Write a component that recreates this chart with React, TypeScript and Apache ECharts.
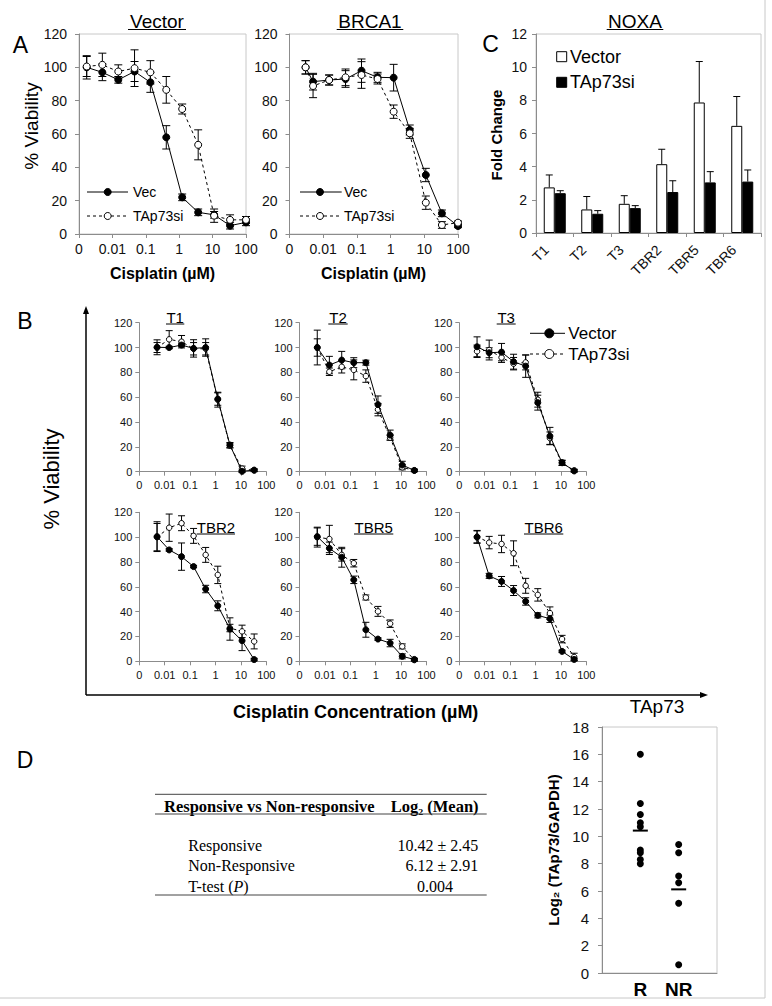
import React, { useEffect, useRef } from "react";
import * as echarts from "echarts";

const SANS = '"Liberation Sans", Arial, sans-serif';
const SERIF = '"Liberation Serif", "DejaVu Serif", serif';
const AXIS_GRAY = "#8c8c8c";

const logTickLabels = ["0", "0.01", "0.1", "1", "10", "100"];

// ---------- Panel A ----------
const concA = [0.0017, 0.005, 0.015, 0.046, 0.137, 0.41, 1.23, 3.7, 11.1, 33.3, 100];
const concBrca = [0.003, 0.005, 0.015, 0.046, 0.137, 0.41, 1.23, 3.7, 11.1, 33.3, 100];
const vectorVec = [100, 97, 92.5, 97.5, 91, 58, 22, 13, 11.5, 5, 7];
const vectorVecErr = [7, 5, 2, 6, 6, 7, 2, 2, 2, 2, 2];
const vectorSi = [100.5, 101.5, 97.5, 99.5, 97, 86.5, 75, 53.5, 11, 8.5, 8.5];
const vectorSiErr = [6, 7, 4, 11, 7, 8, 3, 9, 4, 3, 2];
const brcaVec = [100, 91.4, 92.4, 93, 98, 94, 93.8, 62.4, 35.4, 12.4, 4.8];
const brcaVecErr = [4, 5, 3, 5, 7, 3, 8, 3, 4, 2, 1];
const brcaSi = [100, 88.8, 92.4, 94, 95.4, 93, 73.4, 60.4, 18.8, 5.4, 6.8];
const brcaSiErr = [4, 7, 3, 5, 8, 3, 4, 3, 4, 2, 1];

// ---------- Panel C ----------
const noxaCats = ["T1", "T2", "T3", "TBR2", "TBR5", "TBR6"];
const noxaVector = [2.75, 1.42, 1.76, 4.15, 7.87, 6.46];
const noxaVectorErr = [0.75, 0.78, 0.49, 0.9, 2.47, 1.77];
const noxaSi = [2.4, 1.16, 1.5, 2.47, 3.05, 3.1];
const noxaSiErr = [0.15, 0.19, 0.15, 0.68, 0.65, 0.7];

// ---------- Panel B ----------
const concB = [0.005, 0.015, 0.046, 0.137, 0.41, 1.23, 3.7, 11.1, 33.3];
const bNames = ["T1", "T2", "T3", "TBR2", "TBR5", "TBR6"];
const bVector = [
  [100.2, 100, 102, 99.3, 100, 58.5, 21.5, 0.3, 1.3],
  [100, 85.9, 89.9, 87.8, 87.8, 54, 29.5, 5.4, 1],
  [100.6, 95.8, 96.3, 88.6, 85, 55.6, 28.7, 7.3, 0.6],
  [100.4, 89.7, 84.3, 76.3, 58.2, 44.7, 26, 16.6, 1.4],
  [100.4, 91, 83.8, 65.6, 25.4, 17.9, 14.7, 4, 1.5],
  [100, 68.8, 64.3, 57, 48.2, 37, 34.3, 8, 1.5],
];
const bVectorErr = [
  [6, 1, 1, 7, 7, 5, 2, 1, 1],
  [14, 7, 7, 4, 2, 7, 4, 3, 1],
  [8, 4, 7, 6, 9, 6, 7, 2, 1],
  [12, 1, 11, 1, 3, 4, 9, 8, 1],
  [7, 5, 8, 3, 6, 1, 3, 2, 1],
  [5, 2, 4, 4, 3, 2, 3, 1, 1],
];
const bSi = [
  [100, 106.6, 104.7, 99, 99, 58, 21, 2.5, 1],
  [100, 80.5, 84.5, 82, 77, 50, 27.4, 3.5, 1],
  [97, 98, 92, 87, 88, 58, 27, 7, 1],
  [100, 107.6, 111.2, 101, 85.7, 69.6, 26.8, 24.1, 16],
  [100, 98.5, 85.7, 79, 51.4, 40.2, 30.3, 12, 1],
  [100.4, 95.6, 94.5, 87, 60.8, 53.5, 38.8, 17.9, 3.5],
];
const bSiErr = [
  [4, 7, 5, 5, 5, 6, 2, 2, 1],
  [7, 3, 5, 8, 5, 5, 2, 2, 1],
  [5, 8, 4, 5, 6, 6, 5, 2, 1],
  [11, 11, 6, 6, 6, 7, 3, 5, 6],
  [8, 11, 5, 3, 2, 4, 3, 2, 1],
  [5, 5, 7, 10, 6, 5, 5, 3, 3],
];

// ---------- Panel D ----------
const groupLabels = ["", "R", "NR", ""];
const respValues = [16, 12.4, 11.6, 11.0, 10.7, 9.0, 8.8, 8.3, 8.0];
const nonRespValues = [9.4, 8.8, 7.1, 6.6, 5.1, 0.6];
const groupMeans = [10.42, 6.12];
const tableRows = ["Responsive", "Non-Responsive"];
const tableValues = ["10.42 \u00b1 2.45", "6.12 \u00b1 2.91", "0.004"];

// ---------- helpers ----------
function errRenderer(cap: number, offset = 0, both = true) {
  return (_p: any, api: any) => {
    const x = api.value(0);
    const lo = api.coord([x, api.value(1)]);
    const hi = api.coord([x, api.value(2)]);
    const st = { stroke: "#000", lineWidth: 1 };
    const cx = lo[0] + offset;
    const children: any[] = [
      { type: "line", shape: { x1: cx, y1: lo[1], x2: cx, y2: hi[1] }, style: st },
      { type: "line", shape: { x1: cx - cap, y1: hi[1], x2: cx + cap, y2: hi[1] }, style: st },
    ];
    if (both) children.push({ type: "line", shape: { x1: cx - cap, y1: lo[1], x2: cx + cap, y2: lo[1] }, style: st });
    return { type: "group", children };
  };
}

function errSeries(idx: number, xs: number[], ys: number[], es: number[], cap: number) {
  return {
    type: "custom",
    xAxisIndex: idx,
    yAxisIndex: idx,
    z: 1,
    silent: true,
    encode: { x: 0, y: [1, 2] },
    data: xs.map((x, i) => [x, ys[i] - es[i], ys[i] + es[i]]),
    renderItem: errRenderer(cap),
  };
}

function lineSeries(idx: number, name: string, xs: number[], ys: number[], filled: boolean, size: number, z: number) {
  return {
    type: "line",
    name,
    xAxisIndex: idx,
    yAxisIndex: idx,
    z,
    silent: true,
    data: xs.map((x, i) => [x, ys[i]]),
    symbol: "circle",
    symbolSize: size,
    showSymbol: true,
    showAllSymbol: true,
    lineStyle: { color: "#000", width: 1, type: filled ? "solid" : [3, 3] },
    itemStyle: { color: filled ? "#000" : "#fff", borderColor: "#000", borderWidth: 1, opacity: 1 },
  };
}

function logXAxis(gi: number, fs: number, margin: number) {
  return {
    type: "log",
    gridIndex: gi,
    logBase: 10,
    min: 0.001,
    max: 100,
    axisLine: { show: true, lineStyle: { color: AXIS_GRAY, width: 1 } },
    axisTick: { show: true, length: 4, inside: false, lineStyle: { color: AXIS_GRAY } },
    minorTick: { show: false },
    splitLine: { show: false },
    axisLabel: {
      fontSize: fs,
      fontFamily: SANS,
      color: "#111",
      margin,
      formatter: (v: number) => logTickLabels[Math.round(Math.log10(v)) + 3] ?? "",
    },
  };
}

function valYAxis(gi: number, max: number, interval: number, fs: number, margin: number) {
  return {
    type: "value",
    gridIndex: gi,
    min: 0,
    max,
    interval,
    axisLine: { show: true, lineStyle: { color: AXIS_GRAY, width: 1 } },
    axisTick: { show: true, length: 4, inside: false, lineStyle: { color: AXIS_GRAY } },
    splitLine: { show: false },
    axisLabel: { fontSize: fs, fontFamily: SANS, color: "#111", margin, showMinLabel: true, showMaxLabel: true },
  };
}

const T = (x: number, y: number, text: string, size: number, o: any = {}) => ({
  type: "text",
  x,
  y,
  rotation: o.rotation || 0,
  silent: true,
  z: 100,
  style: {
    text,
    fontSize: size,
    fontFamily: o.family || SANS,
    fontWeight: o.weight || "normal",
    fontStyle: o.fontStyle || "normal",
    fill: o.color || "#000",
    textAlign: o.align || "center",
    textVerticalAlign: o.valign || "middle",
    rich: o.rich,
  },
});
const L = (x1: number, y1: number, x2: number, y2: number, color = "#000", width = 1, dash?: number[]) => ({
  type: "line",
  silent: true,
  z: 100,
  shape: { x1, y1, x2, y2 },
  style: { stroke: color, lineWidth: width, lineDash: dash },
});
const C = (cx: number, cy: number, r: number, filled: boolean) => ({
  type: "circle",
  silent: true,
  z: 101,
  shape: { cx, cy, r },
  style: { fill: filled ? "#000" : "#fff", stroke: "#000", lineWidth: 1 },
});
const R = (x: number, y: number, w: number, h: number, fill: string) => ({
  type: "rect",
  silent: true,
  z: 100,
  shape: { x, y, width: w, height: h },
  style: { fill, stroke: "#000", lineWidth: 1 },
});

function buildOption() {
  const grids: any[] = [];
  const xAxes: any[] = [];
  const yAxes: any[] = [];
  const series: any[] = [];

  const boxGrid = (left: number, top: number, width: number, height: number, box: boolean) => ({
    left,
    top,
    width,
    height,
    show: box,
    borderColor: "#c8c8c8",
    borderWidth: 1,
    backgroundColor: "transparent",
    containLabel: false,
    outerBoundsMode: "none",
  });

  // A: Vector (0), BRCA1 (1)
  grids.push(boxGrid(79, 34, 167, 200, true));
  grids.push(boxGrid(289.5, 34, 168.5, 200, true));
  xAxes.push(logXAxis(0, 14, 8));
  xAxes.push(logXAxis(1, 14, 8));
  yAxes.push(valYAxis(0, 120, 20, 14, 12));
  yAxes.push(valYAxis(1, 120, 20, 14, 12));
  series.push(errSeries(0, concA, vectorVec, vectorVecErr, 4));
  series.push(errSeries(0, concA, vectorSi, vectorSiErr, 4));
  series.push(lineSeries(0, "Vec", concA, vectorVec, true, 7, 3));
  series.push(lineSeries(0, "TAp73si", concA, vectorSi, false, 7, 4));
  series.push(errSeries(1, concBrca, brcaVec, brcaVecErr, 4));
  series.push(errSeries(1, concBrca, brcaSi, brcaSiErr, 4));
  series.push(lineSeries(1, "Vec", concBrca, brcaVec, true, 7, 3));
  series.push(lineSeries(1, "TAp73si", concBrca, brcaSi, false, 7, 4));

  // C: NOXA (2)
  grids.push(boxGrid(536, 34, 225, 199, true));
  xAxes.push({
    type: "category",
    gridIndex: 2,
    data: noxaCats,
    axisLine: { show: true, lineStyle: { color: AXIS_GRAY } },
    axisTick: { show: true, length: 4, alignWithLabel: false, lineStyle: { color: AXIS_GRAY } },
    axisLabel: { fontSize: 14, fontFamily: SANS, color: "#111", rotate: 45, margin: 6, interval: 0, padding: [0, 12, 0, 0] },
  });
  yAxes.push(valYAxis(2, 12, 2, 14, 9));
  series.push({
    type: "bar",
    name: "Vector",
    xAxisIndex: 2,
    yAxisIndex: 2,
    data: noxaVector,
    barWidth: 11,
    barGap: "0%",
    silent: true,
    itemStyle: { color: "#fff", borderColor: "#000", borderWidth: 1, opacity: 1 },
  });
  series.push({
    type: "bar",
    name: "TAp73si",
    xAxisIndex: 2,
    yAxisIndex: 2,
    data: noxaSi,
    barWidth: 11,
    barGap: "0%",
    silent: true,
    itemStyle: { color: "#000", borderColor: "#000", borderWidth: 1, opacity: 1 },
  });
  series.push({
    type: "custom",
    xAxisIndex: 2,
    yAxisIndex: 2,
    z: 5,
    silent: true,
    encode: { x: 0, y: [1, 2] },
    data: noxaCats.map((_c, i) => [i, noxaVector[i], noxaVector[i] + noxaVectorErr[i]]),
    renderItem: errRenderer(3.5, -5.5, false),
  });
  series.push({
    type: "custom",
    xAxisIndex: 2,
    yAxisIndex: 2,
    z: 5,
    silent: true,
    encode: { x: 0, y: [1, 2] },
    data: noxaCats.map((_c, i) => [i, noxaSi[i], noxaSi[i] + noxaSiErr[i]]),
    renderItem: errRenderer(3.5, 5.5, false),
  });

  // B: six small panels (3..8)
  const bLefts = [139.3, 299.5, 459.3];
  const bTops = [322.7, 512.3];
  for (let k = 0; k < 6; k++) {
    const gi = 3 + k;
    grids.push(boxGrid(bLefts[k % 3], bTops[Math.floor(k / 3)], 127, 149, false));
    xAxes.push(logXAxis(gi, 11, 8));
    yAxes.push(valYAxis(gi, 120, 20, 11, 7));
    series.push(errSeries(gi, concB, bSi[k], bSiErr[k], 3.5));
    series.push(errSeries(gi, concB, bVector[k], bVectorErr[k], 3.5));
    series.push(lineSeries(gi, "TAp73si", concB, bSi[k], false, 5.5, 3));
    series.push(lineSeries(gi, "Vector", concB, bVector[k], true, 6, 4));
  }

  // D: scatter (9)
  grids.push(boxGrid(602, 727, 115, 246, true));
  xAxes.push({
    type: "value",
    gridIndex: 9,
    min: 0,
    max: 3,
    interval: 1,
    axisLine: { show: true, lineStyle: { color: AXIS_GRAY } },
    axisTick: { show: false },
    splitLine: { show: false },
    axisLabel: {
      fontSize: 19,
      fontWeight: "bold",
      fontFamily: SANS,
      color: "#000",
      margin: 7,
      showMinLabel: true,
      showMaxLabel: true,
      formatter: (v: number) => groupLabels[Math.round(v)] ?? "",
    },
  });
  yAxes.push(valYAxis(9, 18, 2, 15, 13));
  series.push({
    type: "scatter",
    xAxisIndex: 9,
    yAxisIndex: 9,
    silent: true,
    symbol: "circle",
    symbolSize: 7,
    itemStyle: { color: "#000", opacity: 1 },
    data: [...respValues.map((v) => [1, v]), ...nonRespValues.map((v) => [2, v])],
  });
  series.push({
    type: "scatter",
    xAxisIndex: 9,
    yAxisIndex: 9,
    silent: true,
    symbol: "rect",
    symbolSize: [15, 2],
    itemStyle: { color: "#000", opacity: 1 },
    data: groupMeans.map((m, i) => [i + 1, m]),
  });

  // ---------- graphic ----------
  const g: any[] = [];
  // panel letters
  g.push(T(20.5, 45, "A", 23));
  g.push(T(490.5, 44, "C", 23));
  g.push(T(25, 320.5, "B", 23));
  g.push(T(25, 760, "D", 23));

  // A titles
  g.push(T(157, 21.5, "Vector", 19));
  g.push(L(128, 29.5, 186, 29.5));
  g.push(T(370, 21.5, "BRCA1", 19));
  g.push(L(336.7, 29.5, 403.3, 29.5));
  g.push(T(635, 21.5, "NOXA", 19));
  g.push(L(606.7, 29.5, 663.3, 29.5));

  // A axis titles
  g.push(T(31, 126, "% Viability", 19, { rotation: Math.PI / 2 }));
  g.push(T(162.5, 273, "Cisplatin (\u00b5M)", 16, { weight: "bold" }));
  g.push(T(373.5, 273, "Cisplatin (\u00b5M)", 16, { weight: "bold" }));

  // A legends
  const legA = (x1: number, x2: number, mx: number, tx: number) => {
    g.push(L(x1, 192, x2, 192));
    g.push(C(mx, 192, 3.5, true));
    g.push(T(tx, 192, "Vec", 14, { align: "left" }));
    g.push(L(x1, 216, x2, 216, "#000", 1, [3, 3]));
    g.push(C(mx, 216, 3.5, false));
    g.push(T(tx, 216, "TAp73si", 14, { align: "left" }));
  };
  legA(87, 128, 107.7, 133);
  legA(300, 341.7, 320, 344);

  // C extras
  g.push(T(496, 135, "Fold Change", 15, { weight: "bold", rotation: Math.PI / 2 }));
  g.push(R(556.7, 51.7, 10, 10, "#fff"));
  g.push(T(570, 56.7, "Vector", 18, { align: "left" }));
  g.push(R(556.7, 77.3, 10, 10, "#000"));
  g.push(T(570, 82.3, "TAp73si", 18, { align: "left" }));

  // B titles
  const bTitle = [
    [175.2, 317.5, 166, 184.3, 324],
    [338, 317.5, 328.3, 347.7, 324],
    [506.2, 317.5, 496.7, 515.7, 324],
    [216, 527, 196.7, 235, 534],
    [373.7, 527, 354, 393.3, 534],
    [543.7, 527, 524, 563.3, 534],
  ];
  bTitle.forEach((t, k) => {
    g.push(T(t[0], t[1], bNames[k], 15));
    g.push(L(t[2], t[4], t[3], t[4]));
  });

  // B legend
  g.push(L(530, 333.3, 565, 333.3));
  g.push(C(549.3, 333.3, 4.5, true));
  g.push(T(568.3, 333.3, "Vector", 17, { align: "left" }));
  g.push(L(530, 354, 565, 354, "#000", 1, [3, 3]));
  g.push(C(549.3, 354, 4.5, false));
  g.push(T(568.3, 354, "TAp73si", 17, { align: "left" }));

  // B big axes with arrows
  g.push(L(86, 695, 86, 310, "#000", 1.5));
  g.push({ type: "polygon", silent: true, z: 100, shape: { points: [[86, 306], [83, 314], [89, 314]] }, style: { fill: "#000" } });
  g.push(L(86, 695, 704, 695, "#000", 1.5));
  g.push({ type: "polygon", silent: true, z: 100, shape: { points: [[708, 695], [700, 692], [700, 698]] }, style: { fill: "#000" } });
  g.push(T(51.5, 479, "% Viability", 22, { rotation: Math.PI / 2 }));
  g.push(T(233, 712, "Cisplatin Concentration (\u00b5M)", 18, { weight: "bold", align: "left" }));

  // D table
  g.push(L(155, 794.3, 486.7, 794.3, "#444", 1));
  g.push(T(164, 806.7, "Responsive vs Non-responsive", 16.5, { family: SERIF, weight: "bold", align: "left" }));
  g.push(T(390.7, 806.7, "Log\u2082 (Mean)", 16.5, { family: SERIF, weight: "bold", align: "left" }));
  g.push(L(155, 814, 486.7, 814, "#444", 1));
  g.push(T(188.3, 845, tableRows[0], 16, { family: SERIF, align: "left" }));
  g.push(T(188.3, 865.3, tableRows[1], 16, { family: SERIF, align: "left" }));
  g.push({
    type: "text",
    x: 188.3,
    y: 886,
    silent: true,
    z: 100,
    style: {
      text: "{n|T-test (}{i|P}{n|)}",
      fill: "#000",
      textAlign: "left",
      textVerticalAlign: "middle",
      rich: {
        n: { fontSize: 16, fontFamily: SERIF, fill: "#000" },
        i: { fontSize: 16, fontFamily: SERIF, fontStyle: "italic", fill: "#000" },
      },
    },
  });
  g.push(T(478.3, 845, tableValues[0], 16, { family: SERIF, align: "right" }));
  g.push(T(478.3, 865.3, tableValues[1], 16, { family: SERIF, align: "right" }));
  g.push(T(435, 886, tableValues[2], 16, { family: SERIF }));
  g.push(L(155, 895, 486.7, 895, "#444", 1));

  // D scatter extras
  g.push(T(657, 706, "TAp73", 19));
  g.push(T(553, 850, "Log\u2082 (TAp73/GAPDH)", 15, { weight: "bold", rotation: Math.PI / 2 }));

  // figure frame
  g.push(L(765, 0, 765, 998, "#c8c8c8", 1));
  g.push(L(0, 998, 765, 998, "#c8c8c8", 1));

  return {
    animation: false,
    backgroundColor: "#fff",
    textStyle: { fontFamily: SANS },
    grid: grids,
    xAxis: xAxes,
    yAxis: yAxes,
    series,
    graphic: { elements: g },
  };
}

export default function App() {
  const ref = useRef<HTMLDivElement>(null);
  useEffect(() => {
    if (!ref.current) return;
    const chart = echarts.init(ref.current, null, { renderer: "svg" });
    chart.setOption(buildOption() as any);
    return () => chart.dispose();
  }, []);
  return (
    <div
      ref={ref}
      style={{ position: "absolute", left: 0, top: 0, width: 772, height: 1006, background: "#fff" }}
    />
  );
}
